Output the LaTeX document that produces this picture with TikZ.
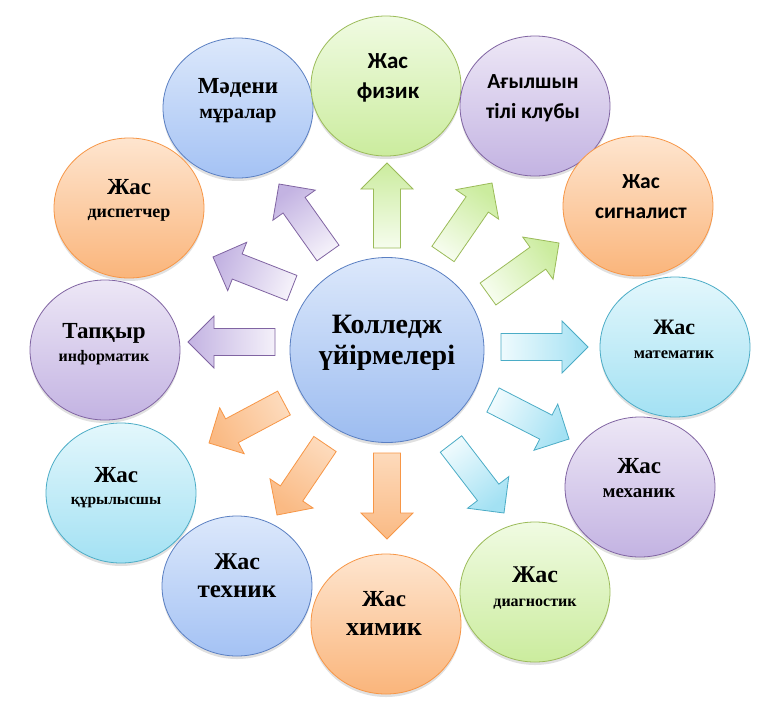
\documentclass[tikz,border=0pt]{standalone}
\usepackage{fontspec}
\setmainfont{Liberation Serif}
\newfontfamily\calfont{Carlito}[BoldFont={Carlito Bold}]
\usetikzlibrary{shapes.geometric,calc,shadows}
\definecolor{bluetop}{HTML}{DCE8FB}
\definecolor{bluebot}{HTML}{A4C2F4}
\definecolor{centerbot}{HTML}{9CBCF0}
\definecolor{blueline}{HTML}{5A7FC2}
\definecolor{greentop}{HTML}{F0FBE2}
\definecolor{greenbot}{HTML}{CBEC9E}
\definecolor{greenline}{HTML}{9BBB59}
\definecolor{purpletop}{HTML}{EDE7F6}
\definecolor{purplebot}{HTML}{C3B3E2}
\definecolor{purpleline}{HTML}{8064A2}
\definecolor{orangetop}{HTML}{FEE5CF}
\definecolor{orangebot}{HTML}{FAB57B}
\definecolor{orangeline}{HTML}{F79646}
\definecolor{arrorangetip}{HTML}{FABA84}
\definecolor{arrorangetail}{HTML}{FDDABB}
\definecolor{cyantop}{HTML}{E3F7FC}
\definecolor{cyanbot}{HTML}{A3E1F3}
\definecolor{cyanline}{HTML}{4BACC6}
\newcommand\myblockarrow[5]{% name, tail, tip, style, shading angle
  \coordinate (#1t) at #2;
  \coordinate (#1p) at #3;
  \coordinate (#1h) at ($(#1p)!26pt!(#1t)$);
  \path[#4, shading angle=#5]
    ($(#1t)!13.5pt!90:(#1p)$) -- ($(#1h)!13.5pt!-90:(#1t)$) --
    ($(#1h)!26pt!-90:(#1t)$) -- (#1p) --
    ($(#1h)!26pt!90:(#1t)$) -- ($(#1h)!13.5pt!90:(#1t)$) --
    ($(#1t)!13.5pt!-90:(#1p)$) -- cycle;
}
\begin{document}
\begin{tikzpicture}[x=1pt,y=-1pt,
  circ/.style={ellipse, minimum width=150pt, minimum height=140pt, inner sep=0pt, line width=0.8pt,
    drop shadow={shadow xshift=0pt, shadow yshift=-3pt, opacity=0.12, fill=black}},
  cblue/.style={circ, draw=blueline, top color=bluetop, bottom color=bluebot},
  cgreen/.style={circ, draw=greenline, top color=greentop, bottom color=greenbot},
  cpurple/.style={circ, draw=purpleline, top color=purpletop, bottom color=purplebot},
  corange/.style={circ, draw=orangeline, top color=orangetop, bottom color=orangebot},
  ccyan/.style={circ, draw=cyanline, top color=cyantop, bottom color=cyanbot},
  lbl/.style={anchor=base, inner sep=0pt, font=\bfseries},
  apurple/.style={draw=purpleline, line width=0.8pt, top color=purplebot, bottom color=purpletop!60!white},
  agreen/.style={draw=greenline, line width=0.8pt, top color=greenbot, bottom color=greentop!60!white},
  acyan/.style={draw=cyanline, line width=0.8pt, top color=cyanbot, bottom color=cyantop!60!white},
  aorange/.style={draw=orangeline, line width=0.8pt, top color=arrorangetip, bottom color=arrorangetail},
]
\useasboundingbox (0,0) rectangle (767,704);
\fill[white] (0,0) rectangle (767,704);

% outer circles
\node[cblue]   (madeni) at (238,108) {};
\node[cgreen]  (fizik)  at (386,86)  {};
\node[cpurple] (agyl)   at (535,106) {};
\node[corange] (signal) at (638,206) {};
\node[ccyan]   (matem)  at (675,347) {};
\node[cpurple] (mekh)   at (640,487) {};
\node[cgreen]  (diag)   at (535,592) {};
\node[corange] (khim)   at (386,624) {};
\node[cblue]   (tekh)   at (237,586) {};
\node[ccyan]   (kuryl)  at (121,493) {};
\node[cpurple] (inform) at (105,350) {};
\node[corange] (disp)   at (129,208) {};
% centre
\node[circ, minimum width=194pt, minimum height=185pt, draw=blueline, top color=bluetop, bottom color=centerbot] (center) at (387,350) {};

% labels
\node[lbl, font=\bfseries\fontsize{23}{27}\selectfont] (madeni1) at (238,93) {Мәдени};
\node[lbl, font=\bfseries\fontsize{20}{24}\selectfont] (madeni2) at (238,118) {мұралар};
\node[lbl, font=\calfont\bfseries\fontsize{23}{27}\selectfont] (fizik1) at (388,68) {Жас};
\node[lbl, font=\calfont\bfseries\fontsize{23}{27}\selectfont] (fizik2) at (388,98) {физик};
\node[lbl, font=\calfont\bfseries\fontsize{21.5}{25}\selectfont] (agyl1) at (533,88) {Ағылшын};
\node[lbl, font=\calfont\bfseries\fontsize{21.5}{25}\selectfont] (agyl2) at (533,118) {тілі клубы};
\node[lbl, font=\calfont\bfseries\fontsize{21.5}{25}\selectfont] (signal1) at (641,188) {Жас};
\node[lbl, font=\calfont\bfseries\fontsize{21.5}{25}\selectfont] (signal2) at (641,218) {сигналист};
\node[lbl, font=\bfseries\fontsize{22}{26}\selectfont] (matem1) at (674,334) {Жас};
\node[lbl, font=\bfseries\fontsize{16.5}{20}\selectfont] (matem2) at (674,358) {математик};
\node[lbl, font=\bfseries\fontsize{23}{27}\selectfont] (mekh1) at (639,473) {Жас};
\node[lbl, font=\bfseries\fontsize{19}{23}\selectfont] (mekh2) at (639,497) {механик};
\node[lbl, font=\bfseries\fontsize{24}{28}\selectfont] (diag1) at (535,582) {Жас};
\node[lbl, font=\bfseries\fontsize{16}{20}\selectfont] (diag2) at (535,606) {диагностик};
\node[lbl, font=\bfseries\fontsize{23}{27}\selectfont] (khim1) at (384,606) {Жас};
\node[lbl, font=\bfseries\fontsize{26}{30}\selectfont] (khim2) at (384,635) {химик};
\node[lbl, font=\bfseries\fontsize{24}{28}\selectfont] (tekh1) at (237,569) {Жас};
\node[lbl, font=\bfseries\fontsize{25}{29}\selectfont] (tekh2) at (237,597) {техник};
\node[lbl, font=\bfseries\fontsize{23}{27}\selectfont] (kuryl1) at (116,482) {Жас};
\node[lbl, font=\bfseries\fontsize{15.5}{19}\selectfont] (kuryl2) at (116,504) {құрылысшы};
\node[lbl, font=\bfseries\fontsize{23}{27}\selectfont] (inform1) at (104,338) {Тапқыр};
\node[lbl, font=\bfseries\fontsize{16}{20}\selectfont] (inform2) at (104,361) {информатик};
\node[lbl, font=\bfseries\fontsize{23}{27}\selectfont] (disp1) at (129,194) {Жас};
\node[lbl, font=\bfseries\fontsize{18}{22}\selectfont] (disp2) at (129,217) {диспетчер};
\node[lbl, font=\bfseries\fontsize{28}{32}\selectfont] (center1) at (387,333) {Колледж};
\node[lbl, font=\bfseries\fontsize{28}{32}\selectfont] (center2) at (387,364) {үйірмелері};

% block arrows
\myblockarrow{madeniA}{(328,253)}{(279,184)}{apurple}{35.4}
\myblockarrow{dispA}{(292,288)}{(213,257)}{apurple}{68.6}
\myblockarrow{informA}{(275,342)}{(188,342)}{apurple}{90}
\myblockarrow{fizikA}{(387,248)}{(387,163)}{agreen}{0}
\myblockarrow{agylA}{(443,254)}{(492,183)}{agreen}{-34.6}
\myblockarrow{signalA}{(488,294)}{(559,243)}{agreen}{-54.3}
\myblockarrow{matemA}{(501,347)}{(588,347)}{acyan}{-90}
\myblockarrow{mekhA}{(493,400)}{(569,439)}{acyan}{-117.2}
\myblockarrow{diagA}{(451,444)}{(504,513)}{acyan}{-142.5}
\myblockarrow{khimA}{(387,453)}{(387,539)}{aorange}{180}
\myblockarrow{tekhA}{(325,444)}{(277,515)}{aorange}{145.9}
\myblockarrow{kurylA}{(284,403)}{(209,443)}{aorange}{118.1}
\end{tikzpicture}
\end{document}
